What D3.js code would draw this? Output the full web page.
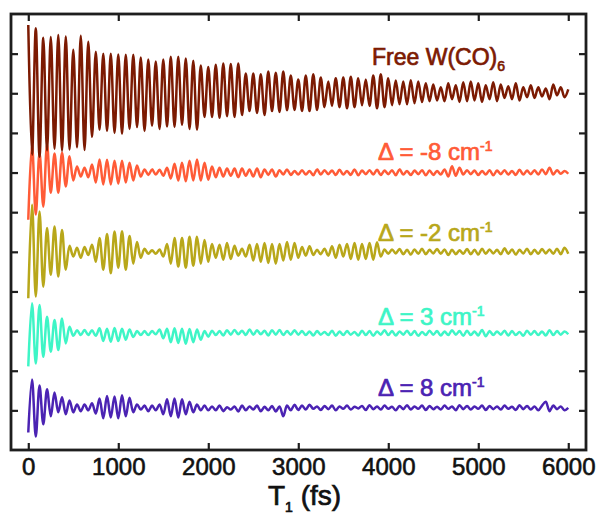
<!DOCTYPE html>
<html><head><meta charset="utf-8">
<script src="https://cdn.jsdelivr.net/npm/d3@7"></script>
<style>body{margin:0;background:#fff}svg{display:block}</style>
</head><body><svg id="c" width="599" height="515"></svg>
<script>
// ---- data ----
const xTicks = [0, 1000, 2000, 3000, 4000, 5000, 6000];
const yTicks = [1, 2, 3, 4, 5, 6, 7, 8, 9, 10];
const seriesLabels = ["Free W(CO)", "Δ = -8 cm", "Δ = -2 cm", "Δ = 3 cm", "Δ = 8 cm"];
const seriesScripts = ["6", "-1", "-1", "-1", "-1"];
const seriesOffsets = [9, 7, 5, 3, 1];
const timeStep = 6000 / 144; // fs between successive extrema samples

const freeW = [1.72,-1.55,1.64,-1.60,1.40,-1.44,1.42,-1.40,1.47,-1.45,
 1.43,-1.42,1.10,-1.36,1.45,-1.43,1.30,-1.10,1.05,-0.92,
 1.00,-0.95,1.00,-1.00,0.98,-1.02,0.97,-0.90,0.97,-0.85,
 0.90,-0.95,0.85,-0.82,0.80,-0.90,0.85,-0.84,0.92,-0.85,
 0.92,-0.80,0.88,-0.90,0.82,-0.92,0.70,-0.60,0.66,-0.60,
 0.72,-0.62,0.75,-0.58,0.74,-0.60,0.75,-0.55,0.50,-0.45,
 0.50,-0.50,0.48,-0.55,0.55,-0.45,0.52,-0.47,0.55,-0.43,
 0.45,-0.42,0.35,-0.45,0.45,-0.45,0.48,-0.42,0.40,-0.35,
 0.30,-0.32,0.38,-0.35,0.40,-0.38,0.42,-0.35,0.38,-0.30,
 0.35,-0.32,0.45,-0.38,0.48,-0.35,0.38,-0.30,0.32,-0.28,
 0.30,-0.28,0.33,-0.25,0.30,-0.22,0.25,-0.20,0.22,-0.18,
 0.15,-0.20,0.25,-0.15,0.20,-0.22,0.28,-0.20,0.30,-0.18,
 0.25,-0.22,0.20,-0.15,0.28,-0.20,0.22,-0.12,0.18,-0.15,
 0.25,-0.18,0.15,-0.10,0.20,-0.12,0.15,-0.08,0.12,-0.15,
 0.22,-0.05,0.15,-0.10,0.10];

const detuneM8 = [-1.19,0.71,-1.06,0.50,-0.86,0.71,-0.51,0.48,-0.51,0.50,
 -0.35,0.41,-0.20,0.15,-0.10,0.12,-0.12,0.20,-0.25,0.33,
 -0.30,0.32,-0.30,0.30,-0.28,0.30,-0.25,0.25,-0.20,0.18,
 -0.10,0.08,-0.06,0.08,-0.05,0.07,-0.08,0.12,-0.15,0.22,
 -0.20,0.25,-0.22,0.30,-0.20,0.33,-0.20,0.25,-0.18,0.15,
 -0.12,0.12,-0.10,0.10,-0.08,0.10,-0.12,0.10,-0.08,0.08,
 -0.10,0.10,-0.12,0.08,-0.06,0.08,-0.10,0.06,-0.05,0.08,
 -0.06,0.04,-0.05,
 0.06,-0.05,0.04,-0.07,0.08,-0.05,0.06,-0.04,0.05,-0.06,
 0.07,-0.05,0.04,-0.06,0.08,-0.07,0.05,-0.04,0.06,-0.05,
 0.07,-0.06,0.05,-0.04,0.06,-0.07,0.08,-0.05,0.04,-0.06,
 0.05,-0.04,0.06,-0.07,0.05,-0.06,0.04,-0.05,0.08,-0.10,
 0.16,-0.08,0.12,-0.05,0.06,-0.04,0.05,-0.06,0.04,-0.05,
 0.06,-0.07,0.05,-0.04,0.06,-0.05,0.04,-0.06,0.07,-0.05,
 0.05,-0.04,0.06,-0.05,0.08,-0.04,0.12,-0.05,0.06,-0.03,0.04,-0.03];

const detuneM2 = [-1.17,1.19,-1.13,1.02,-0.88,0.60,-0.58,0.64,-0.62,0.55,
 -0.45,0.15,-0.12,0.10,-0.15,0.12,-0.08,0.18,-0.25,0.35,
 -0.45,0.45,-0.54,0.51,-0.40,0.52,-0.45,0.40,-0.30,0.25,
 -0.15,0.08,-0.05,0.04,-0.05,0.06,-0.12,0.20,-0.30,0.35,
 -0.37,0.35,-0.40,0.38,-0.35,0.38,-0.30,0.30,-0.25,0.20,
 -0.15,0.18,-0.20,0.22,-0.18,0.15,-0.10,0.08,-0.12,0.18,
 -0.22,0.20,-0.25,0.22,-0.28,0.20,-0.30,0.20,-0.22,0.25,
 -0.20,0.22,-0.15,
 0.12,-0.10,0.14,-0.08,0.05,-0.06,0.08,-0.10,0.14,-0.15,0.18,-0.12,0.20,-0.18,0.22,-0.20,0.20,-0.18,0.22,-0.20,0.24,-0.12,0.06,
 -0.05,0.06,-0.04,0.07,-0.06,0.05,-0.07,0.06,-0.05,0.08,
 -0.06,0.05,-0.04,0.07,-0.05,0.06,-0.08,0.05,-0.06,0.04,
 -0.05,0.07,-0.06,0.05,-0.07,0.08,-0.05,0.06,-0.04,0.05,
 -0.06,0.09,-0.05,0.06,-0.07,0.05,-0.04,0.08,-0.06,0.05,
 -0.05,0.07,-0.04,0.06,-0.05,0.08,-0.06,0.10,-0.05];

const detuneP3 = [-0.89,0.70,-0.82,0.66,-0.65,0.36,-0.52,0.28,-0.48,0.32,
 -0.31,0.11,-0.12,0.02,-0.10,0.03,-0.10,0.02,-0.12,0.07,
 -0.25,0.06,-0.27,0.08,-0.25,0.06,-0.22,0.04,-0.15,0.00,
 -0.10,0.00,-0.10,0.00,-0.08,0.04,-0.18,0.06,-0.28,0.07,
 -0.30,0.06,-0.32,0.05,-0.28,0.04,-0.22,0.00,-0.14,
 0.01,-0.10,0.00,-0.11,0.02,-0.09,0.03,-0.08,0.01,-0.10,0.04,-0.09,
 0.02,-0.08,0.01,-0.11,0.02,-0.09,0.03,-0.10,0.00,-0.09,0.02,-0.09,
 0.00,-0.10,-0.01,-0.11,0.00,-0.09,-0.02,-0.10,0.01,-0.12,
 -0.01,-0.10,0.00,-0.09,-0.02,-0.11,0.01,-0.10,0.00,-0.12,
 -0.01,-0.09,0.02,-0.10,0.00,-0.11,-0.01,-0.09,0.01,-0.10,
 0.00,-0.12,-0.02,-0.10,0.01,-0.09,0.00,-0.11,-0.01,-0.10,
 0.02,-0.09,0.00,-0.12,0.01,-0.10,-0.01,-0.11,0.03,-0.13,
 0.00,-0.10,-0.01,-0.09,0.01,-0.11,0.00,-0.10,-0.02,-0.12,
 0.01,-0.09,0.00,-0.10,-0.01,-0.11,0.02,-0.10,0.00,-0.09,-0.01,-0.08];

const detuneP8 = [-0.56,0.78,-0.66,0.63,-0.35,0.53,-0.15,0.45,-0.05,0.33,
 -0.10,0.25,-0.05,0.15,-0.02,0.15,0.00,0.18,-0.08,0.30,
 -0.20,0.36,-0.18,0.35,-0.20,0.38,-0.15,0.32,-0.05,0.15,
 0.02,0.12,-0.02,0.12,0.00,0.15,-0.10,0.28,-0.15,0.30,
 -0.18,0.28,-0.10,0.22,-0.05,0.15,0.00,0.12,0.00,
 0.10,0.00,0.12,-0.02,0.08,0.02,0.10,-0.03,0.12,0.00,0.10,0.02,
 0.12,-0.02,0.09,0.00,0.11,-0.03,0.10,-0.15,0.12,0.00,0.14,0.01,
 0.12,0.02,0.14,0.04,0.10,0.01,0.11,0.03,0.12,0.00,
 0.10,0.04,0.12,0.02,0.09,0.05,0.11,0.01,0.13,0.03,
 0.10,0.02,0.12,0.04,0.09,0.00,0.11,0.03,0.13,0.02,
 0.10,0.04,0.12,0.01,0.11,0.03,0.09,0.02,0.12,0.04,
 0.10,0.00,0.13,0.03,0.11,0.02,0.10,0.04,0.12,0.01,
 0.11,0.03,0.10,0.02,0.12,0.04,0.09,0.01,0.13,0.03,
 0.11,0.02,0.10,0.00,0.12,0.22,-0.02,0.12,0.03,0.10,0.00,0.06];

const seriesValues = [freeW, detuneM8, detuneM2, detuneP3, detuneP8];
const seriesColors = ["#7c1a02", "#ff5b37", "#b8a71a", "#3ef5c6", "#4b23b3"];

// ---- drawing ----
const svg = d3.select("#c");
const L = 11, R = 586, T = 14, B = 450;
const x = d3.scaleLinear().domain([-192, 6197]).range([L, R]);
const y = d3.scaleLinear().domain([0, 11]).range([B, T]);
const FONT = "'Liberation Sans', Arial, Helvetica, sans-serif";

const line = d3.line()
  .x(d => x(d.t))
  .y(d => y(d.v))
  .curve(d3.curveCatmullRom.alpha(0.5));

for (let k = seriesValues.length - 1; k >= 0; k--) {
  const pts = seriesValues[k].map((v, i) => ({ t: i * timeStep, v: seriesOffsets[k] + v }));
  svg.append("path").datum(pts)
    .attr("d", line)
    .attr("fill", "none")
    .attr("stroke", seriesColors[k])
    .attr("stroke-width", 2.5)
    .attr("stroke-linejoin", "round");
}

const axCol = "#1e1e1e";
function styleAxis(g) {
  g.select(".domain").remove();
  g.selectAll(".tick line").attr("stroke", axCol).attr("stroke-width", 2.2);
  g.selectAll(".tick text").attr("fill", "#111").attr("stroke", "#111").attr("stroke-width", 0.6)
    .style("font-family", FONT).style("font-size", "24px");
}
svg.append("g").attr("transform", `translate(0,${B})`)
  .call(d3.axisBottom(x).tickValues(xTicks).tickSize(-7).tickPadding(8).tickFormat(d3.format("d")))
  .call(styleAxis);
svg.append("g").attr("transform", `translate(0,${T})`)
  .call(d3.axisTop(x).tickValues(xTicks).tickSize(-7).tickFormat(""))
  .call(styleAxis);
svg.append("g").attr("transform", `translate(${L},0)`)
  .call(d3.axisLeft(y).tickValues(yTicks).tickSize(-7).tickFormat(""))
  .call(styleAxis);
svg.append("g").attr("transform", `translate(${R},0)`)
  .call(d3.axisRight(y).tickValues(yTicks).tickSize(-7).tickFormat(""))
  .call(styleAxis);

svg.append("rect").attr("x", L).attr("y", T).attr("width", R - L).attr("height", B - T)
  .attr("fill", "none").attr("stroke", axCol).attr("stroke-width", 2.8);

const xt = svg.append("text").attr("x", 268).attr("y", 505)
  .style("font-family", FONT).style("font-size", "28px")
  .attr("fill", "#111").attr("stroke", "#111").attr("stroke-width", 0.7);
xt.append("tspan").text("T");
xt.append("tspan").attr("dy", 7).style("font-size", "14px").text("1");
xt.append("tspan").attr("dy", -7).text(" (fs)");

const labelPos = [[372, 65, 23], [378, 160, 24], [378, 241, 24], [378, 325, 24], [378, 396, 24]];
seriesLabels.forEach((lab, k) => {
  const [lx, ly, fs] = labelPos[k];
  const t = svg.append("text").attr("x", lx).attr("y", ly)
    .style("font-family", FONT).style("font-size", fs + "px")
    .attr("fill", seriesColors[k]).attr("stroke", seriesColors[k]).attr("stroke-width", 0.7);
  t.append("tspan").text(lab);
  t.append("tspan").attr("dy", k === 0 ? 6 : -9).style("font-size", "14px").text(seriesScripts[k]);
});
</script></body></html>
